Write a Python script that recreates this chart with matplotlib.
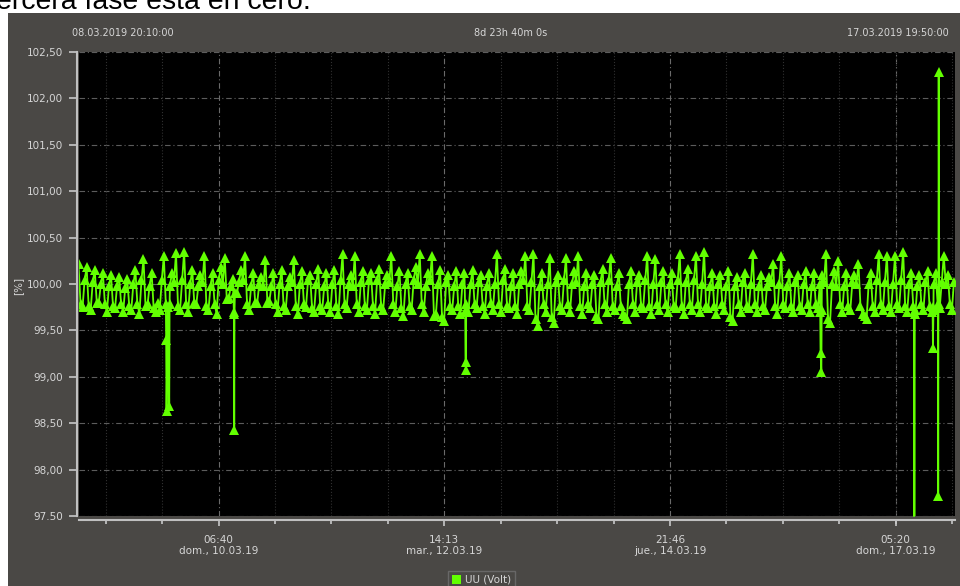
import numpy as np
import matplotlib
matplotlib.use('Agg')
import matplotlib.pyplot as plt
from matplotlib.patches import Rectangle, Patch
from matplotlib.ticker import FixedLocator

# ── Data (minutes from 08.03.2019 20:10) ──────────────────────
# samples on the full hour
uu_hour = [
    100.22, 99.75, 100.18, 99.72, 100.15, 99.80, 100.12, 99.70, 100.10, 99.74, 100.08, 99.70,
    100.05, 99.72, 100.15, 99.68, 100.27, 99.78, 100.12, 99.70, 99.72, 100.30, 99.75, 100.12,
    100.33, 99.72, 100.35, 99.70, 100.15, 99.78, 100.10, 100.30, 99.72, 100.12, 99.68, 100.18,
    100.28, 99.85, 100.05, 99.90, 100.15, 100.30, 99.72, 100.12, 99.80, 100.08, 100.26, 99.82,
    100.12, 99.70, 100.15, 99.72, 100.08, 100.26, 99.68, 100.14, 99.75, 100.10, 99.70, 100.16,
    99.72, 100.12, 99.70, 100.15, 99.68, 100.32, 99.74, 100.10, 100.30, 99.70, 100.14, 99.72,
    100.12, 99.68, 100.16, 99.72, 100.10, 100.30, 99.70, 100.14, 99.66, 100.12, 99.72, 100.18,
    100.32, 99.70, 100.12, 100.30, 99.68, 100.15, 99.60, 100.10, 99.72, 100.14, 99.68, 100.12,
    99.70, 100.15, 99.74, 100.10, 99.68, 100.12, 99.72, 100.32, 99.70, 100.16, 99.74, 100.12,
    99.68, 100.14, 100.30, 99.72, 100.32, 99.55, 100.12, 99.70, 100.28, 99.58, 100.10, 99.72,
    100.28, 99.70, 100.14, 100.30, 99.68, 100.12, 99.74, 100.10, 99.62, 100.16, 99.70, 100.28,
    99.72, 100.12, 99.68, 99.62, 100.14, 99.70, 100.10, 99.74, 100.30, 99.68, 100.27, 99.72,
    100.14, 99.70, 100.12, 99.74, 100.32, 99.68, 100.16, 99.72, 100.30, 99.70, 100.35, 99.74,
    100.12, 99.68, 100.10, 99.72, 100.14, 99.60, 100.08, 99.70, 100.12, 99.74, 100.32, 99.70,
    100.10, 99.72, 100.08, 100.22, 99.68, 100.30, 99.74, 100.12, 99.70, 100.10, 99.72, 100.14,
    99.70, 100.12, 99.74, 100.10, 100.32, 99.58, 100.14, 100.25, 99.70, 100.12, 99.72, 100.10,
    100.22, 99.68, 99.62, 100.12, 99.70, 100.32, 99.72, 100.30, 99.70, 100.30, 99.74, 100.35,
    99.70, 100.12, 99.68, 100.10, 99.72, 100.14, 99.70, 100.12, 99.74, 100.30, 100.10, 99.72,
]
# samples on the half hour
uu_half = [
    99.78, 100.04, 99.76, 100.02, 99.80, 100.00, 99.78, 99.98, 99.76, 99.98, 99.78, 99.96,
    99.76, 100.00, 99.78, 100.04, 99.76, 99.98, 99.74, 99.80, 100.04, 99.78, 99.98, 100.02,
    99.76, 100.04, 99.78, 100.00, 99.80, 99.98, 100.02, 99.76, 99.98, 99.78, 100.04, 100.00,
    99.84, 99.98, 99.90, 100.02, 100.04, 99.78, 99.98, 99.80, 100.00, 99.98, 99.80, 99.98,
    99.78, 100.00, 99.76, 99.98, 100.02, 99.76, 100.00, 99.78, 100.04, 99.74, 100.00, 99.76,
    99.98, 99.78, 100.00, 99.76, 100.04, 99.78, 100.00, 99.98, 99.78, 100.02, 99.76, 100.04,
    99.76, 100.04, 99.76, 100.00, 100.02, 99.78, 99.98, 99.74, 100.00, 99.76, 100.04, 100.00,
    99.78, 99.98, 100.04, 99.66, 100.00, 99.64, 100.02, 99.76, 99.98, 99.76, 100.00, 99.78,
    100.00, 99.78, 100.02, 99.76, 99.98, 99.80, 100.00, 99.78, 100.04, 99.76, 99.98, 99.76,
    100.00, 100.04, 99.76, 100.02, 99.62, 99.98, 99.78, 100.00, 99.64, 100.02, 99.76, 100.04,
    99.78, 100.00, 100.02, 99.76, 99.98, 99.78, 100.00, 99.66, 100.02, 99.78, 100.04, 99.76,
    99.98, 99.76, 99.66, 100.00, 99.78, 100.02, 99.76, 100.04, 99.76, 100.00, 99.78, 100.02,
    99.78, 100.00, 99.76, 100.04, 99.76, 100.02, 99.78, 100.04, 99.78, 100.00, 99.76, 99.98,
    99.76, 100.00, 99.78, 99.98, 99.64, 99.98, 99.78, 100.02, 99.76, 100.00, 99.78, 99.98,
    99.76, 99.98, 100.02, 99.76, 100.00, 99.78, 99.98, 99.76, 100.02, 99.76, 100.00, 99.78,
    99.98, 99.78, 100.00, 100.02, 99.62, 100.00, 99.98, 99.78, 99.98, 99.76, 100.02, 100.00,
    99.76, 99.66, 100.00, 99.76, 100.04, 99.78, 100.02, 99.76, 100.00, 99.78, 100.04, 99.76,
    100.00, 99.76, 99.98, 99.78, 100.02, 99.76, 100.00, 99.78, 100.02, 100.00, 99.78, 100.02,
]
STEP_MIN = 60

# dips / outliers (minute, value)
event_t = [1295, 1300, 1340, 1345,
           2296, 2300, 2304,
           5712, 5716, 5722, 5726,
           10955, 10960, 10972, 10978,
           12340, 12346, 12352,
           12615, 12620, 12628,
           12695, 12698, 12705, 12712]
event_v = [99.40, 98.63, 98.68, 99.78,
           99.68, 98.43, 99.70,
           99.70, 99.16, 99.07, 99.72,
           99.70, 99.26, 99.05, 99.72,
           99.70, 97.46, 99.72,
           99.72, 99.31, 99.75,
           99.75, 97.72, 102.28, 99.78]

T_END = 12940
major_t = [2070, 5403, 8736, 12070]
major_lbl = ["06:40\ndom., 10.03.19", "14:13\nmar., 12.03.19",
             "21:46\njue., 14.03.19", "05:20\ndom., 17.03.19"]
y_ticks = [97.5, 98.0, 98.5, 99.0, 99.5, 100.0, 100.5, 101.0, 101.5, 102.0, 102.5]
y_lbl = ["97.50", "98,00", "98,50", "99,00", "99,50", "100,00",
         "100,50", "101,00", "101,50", "102,00", "102,50"]

t_hour = np.arange(len(uu_hour)) * STEP_MIN
t_half = t_hour + STEP_MIN // 2
t_all = np.concatenate([t_hour, t_half, event_t])
v_all = np.concatenate([uu_hour, uu_half, event_v])
order = np.argsort(t_all, kind='stable')
t_all, v_all = t_all[order], v_all[order]

# ── Style ─────────────────────────────────────────────────────
PANEL = '#4a4845'
TXT = '#d6d6d6'
GREEN = '#62ff00'
plt.rcParams.update({'font.family': 'DejaVu Sans', 'font.size': 7.5})

W, H = 960, 586
fig = plt.figure(figsize=(9.6, 5.86), dpi=100, facecolor='white')
fig.patches.append(Rectangle((8 / W, 0), 1, 1 - 13 / H, transform=fig.transFigure,
                             facecolor=PANEL, edgecolor='none', zorder=-10))
fig.text(-4 / W, 1 - 9 / H, "ercera fase está en cero.", fontsize=20.5,
         family='Liberation Sans', color='black', va='baseline', ha='left')

ax = fig.add_axes([78.5 / W, 1 - 516 / H, (954.6 - 78.5) / W, (516 - 52) / H])
ax.set_facecolor('black')

ax.plot(t_all, v_all, color=GREEN, lw=1.3, marker='^', markersize=7.2,
        markeredgewidth=0, zorder=3)

ax.set_xlim(0, T_END)
ax.set_ylim(97.5, 102.5)

# ── Axes, ticks, grid ─────────────────────────────────────────
ax.set_yticks(y_ticks)
ax.set_yticklabels(y_lbl)
ax.set_xticks(major_t)
ax.set_xticklabels(major_lbl, linespacing=1.5)
minor_step = (major_t[1] - major_t[0]) / 4
ax.xaxis.set_minor_locator(FixedLocator(np.arange(major_t[0] - 2 * minor_step, T_END, minor_step)))

ax.tick_params(axis='y', colors='#c8c8c8', labelcolor=TXT, length=6, width=1.2, pad=4)
ax.tick_params(axis='x', which='major', colors='#c8c8c8', labelcolor=TXT, length=4.5, width=1.2, pad=6)
ax.tick_params(axis='x', which='minor', colors='#c8c8c8', length=3, width=1.2)

for s in ['top', 'right']:
    ax.spines[s].set_visible(False)
ax.spines['left'].set_position(('outward', 1.2))
ax.spines['bottom'].set_position(('outward', 3))
for s in ['left', 'bottom']:
    ax.spines[s].set_color('#c0c0c0')
    ax.spines[s].set_linewidth(1.5)

dashdot = (0, (5, 2.5, 1, 2.5))
for yv in y_ticks:
    ax.axhline(yv, color='#5c5c5c', lw=0.8, ls=dashdot, zorder=1)
ax.grid(axis='x', which='major', color='#6a6a6a', lw=0.8, ls=dashdot, zorder=1)
ax.grid(axis='x', which='minor', color='#303030', lw=0.8, ls=':', zorder=1)

fig.text(18 / W, 1 - 286 / H, "[%]", rotation=90, color=TXT, ha='center', va='center')

# header labels
fig.text(72 / W, 1 - 33 / H, "08.03.2019 20:10:00", color=TXT, fontsize=7, va='center', ha='left')
fig.text(511 / W, 1 - 33 / H, "8d 23h 40m 0s", color=TXT, fontsize=7, va='center', ha='center')
fig.text(949 / W, 1 - 33 / H, "17.03.2019 19:50:00", color=TXT, fontsize=7, va='center', ha='right')

# legend
leg = fig.legend(handles=[Patch(facecolor=GREEN, edgecolor='none', label='UU (Volt)')],
                 loc='upper center', bbox_to_anchor=(481.5 / W, 1 - 566 / H),
                 frameon=True, fancybox=False, facecolor=PANEL, edgecolor='#707070',
                 labelcolor=TXT, fontsize=7.5, handlelength=0.9, handleheight=0.9,
                 borderpad=0.35, handletextpad=0.4)
leg.get_frame().set_linewidth(1.0)

fig.savefig('out.png', dpi=100, facecolor=fig.get_facecolor())
